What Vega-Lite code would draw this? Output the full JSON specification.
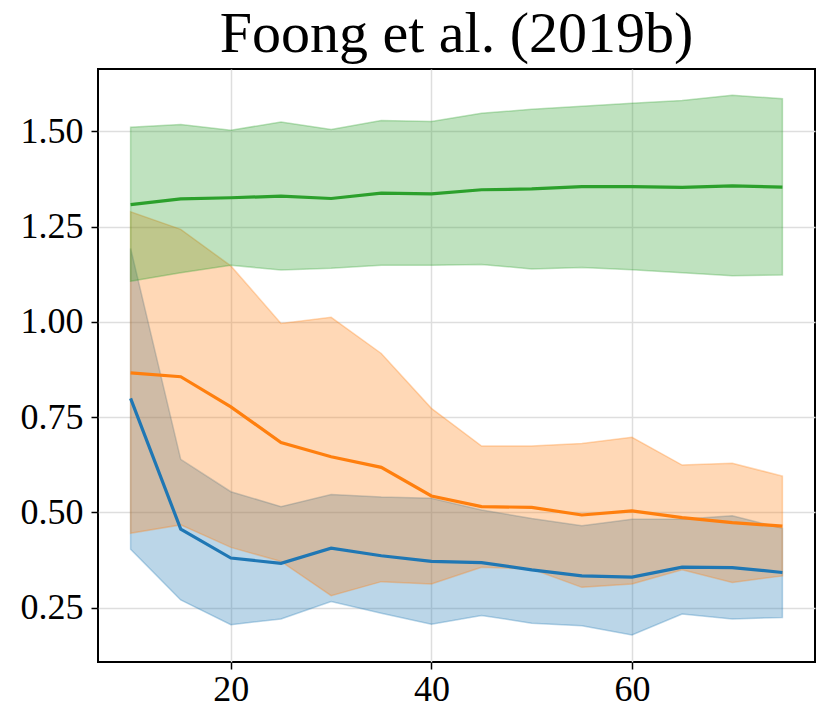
{
  "$schema": "https://vega.github.io/schema/vega-lite/v6.json",
  "width": 717,
  "height": 593,
  "autosize": "none",
  "padding": {"left": 98, "top": 69, "right": 16, "bottom": 65},
  "background": "white",
  "config": {
    "view": {"stroke": "black", "strokeWidth": 2},
    "font": "Liberation Serif"
  },
  "title": {
    "text": "Foong et al. (2019b)",
    "font": "Liberation Serif",
    "fontSize": 58,
    "fontWeight": "normal",
    "color": "black",
    "anchor": "middle",
    "offset": 5
  },
  "data": {
    "values": [
      {"x": 10, "method": "A", "mean": 0.799, "lo": 0.403, "hi": 1.193},
      {"x": 15, "method": "A", "mean": 0.456, "lo": 0.270, "hi": 0.639},
      {"x": 20, "method": "A", "mean": 0.380, "lo": 0.205, "hi": 0.554},
      {"x": 25, "method": "A", "mean": 0.366, "lo": 0.220, "hi": 0.515},
      {"x": 30, "method": "A", "mean": 0.406, "lo": 0.266, "hi": 0.547},
      {"x": 35, "method": "A", "mean": 0.386, "lo": 0.235, "hi": 0.540},
      {"x": 40, "method": "A", "mean": 0.371, "lo": 0.206, "hi": 0.537},
      {"x": 45, "method": "A", "mean": 0.368, "lo": 0.229, "hi": 0.506},
      {"x": 50, "method": "A", "mean": 0.349, "lo": 0.209, "hi": 0.484},
      {"x": 55, "method": "A", "mean": 0.333, "lo": 0.202, "hi": 0.465},
      {"x": 60, "method": "A", "mean": 0.330, "lo": 0.178, "hi": 0.482},
      {"x": 65, "method": "A", "mean": 0.356, "lo": 0.233, "hi": 0.482},
      {"x": 70, "method": "A", "mean": 0.355, "lo": 0.220, "hi": 0.491},
      {"x": 75, "method": "A", "mean": 0.342, "lo": 0.224, "hi": 0.458},
      {"x": 10, "method": "B", "mean": 0.866, "lo": 0.445, "hi": 1.289},
      {"x": 15, "method": "B", "mean": 0.856, "lo": 0.467, "hi": 1.243},
      {"x": 20, "method": "B", "mean": 0.777, "lo": 0.408, "hi": 1.147},
      {"x": 25, "method": "B", "mean": 0.683, "lo": 0.371, "hi": 0.996},
      {"x": 30, "method": "B", "mean": 0.646, "lo": 0.281, "hi": 1.012},
      {"x": 35, "method": "B", "mean": 0.618, "lo": 0.318, "hi": 0.917},
      {"x": 40, "method": "B", "mean": 0.543, "lo": 0.312, "hi": 0.773},
      {"x": 45, "method": "B", "mean": 0.515, "lo": 0.356, "hi": 0.674},
      {"x": 50, "method": "B", "mean": 0.513, "lo": 0.351, "hi": 0.674},
      {"x": 55, "method": "B", "mean": 0.493, "lo": 0.303, "hi": 0.681},
      {"x": 60, "method": "B", "mean": 0.504, "lo": 0.312, "hi": 0.697},
      {"x": 65, "method": "B", "mean": 0.486, "lo": 0.349, "hi": 0.624},
      {"x": 70, "method": "B", "mean": 0.473, "lo": 0.316, "hi": 0.629},
      {"x": 75, "method": "B", "mean": 0.464, "lo": 0.333, "hi": 0.595},
      {"x": 10, "method": "C", "mean": 1.308, "lo": 1.107, "hi": 1.511},
      {"x": 15, "method": "C", "mean": 1.323, "lo": 1.129, "hi": 1.518},
      {"x": 20, "method": "C", "mean": 1.326, "lo": 1.149, "hi": 1.503},
      {"x": 25, "method": "C", "mean": 1.330, "lo": 1.136, "hi": 1.525},
      {"x": 30, "method": "C", "mean": 1.324, "lo": 1.141, "hi": 1.505},
      {"x": 35, "method": "C", "mean": 1.338, "lo": 1.149, "hi": 1.529},
      {"x": 40, "method": "C", "mean": 1.336, "lo": 1.149, "hi": 1.526},
      {"x": 45, "method": "C", "mean": 1.347, "lo": 1.151, "hi": 1.548},
      {"x": 50, "method": "C", "mean": 1.349, "lo": 1.139, "hi": 1.558},
      {"x": 55, "method": "C", "mean": 1.355, "lo": 1.143, "hi": 1.566},
      {"x": 60, "method": "C", "mean": 1.355, "lo": 1.137, "hi": 1.574},
      {"x": 65, "method": "C", "mean": 1.353, "lo": 1.129, "hi": 1.581},
      {"x": 70, "method": "C", "mean": 1.357, "lo": 1.121, "hi": 1.595},
      {"x": 75, "method": "C", "mean": 1.354, "lo": 1.123, "hi": 1.586}
    ]
  },
  "encoding": {
    "x": {
      "field": "x",
      "type": "quantitative",
      "scale": {"domain": [6.75, 78.25], "nice": false, "zero": false},
      "axis": {
        "title": null,
        "values": [20, 40, 60],
        "domain": false,
        "labelFont": "Liberation Serif",
        "labelFontSize": 36,
        "labelColor": "black",
        "labelPadding": 3,
        "tickColor": "black",
        "tickSize": 7,
        "tickWidth": 1.5,
        "gridColor": "#dedede",
        "gridWidth": 1.5
      }
    },
    "color": {
      "field": "method",
      "type": "nominal",
      "scale": {"domain": ["A", "B", "C"], "range": ["#1f77b4", "#ff7f0e", "#2ca02c"]},
      "legend": null
    }
  },
  "layer": [
    {
      "mark": {"type": "area", "fillOpacity": 0.3, "strokeOpacity": 0.3, "strokeWidth": 1.5},
      "encoding": {
        "y": {
          "field": "lo",
          "type": "quantitative",
          "scale": {"domain": [0.107, 1.664], "nice": false, "zero": false},
          "axis": {
            "title": null,
            "values": [0.25, 0.5, 0.75, 1.0, 1.25, 1.5],
            "format": ".2f",
            "domain": false,
            "labelFont": "Liberation Serif",
            "labelFontSize": 36,
            "labelColor": "black",
            "labelPadding": 8,
            "tickColor": "black",
            "tickSize": 7,
            "tickWidth": 1.5,
            "gridColor": "#dedede",
            "gridWidth": 1.5
          }
        },
        "y2": {"field": "hi"},
        "stroke": {"field": "method", "type": "nominal", "scale": {"domain": ["A", "B", "C"], "range": ["#1f77b4", "#ff7f0e", "#2ca02c"]}, "legend": null}
      }
    },
    {
      "mark": {"type": "line", "strokeWidth": 3.2},
      "encoding": {
        "y": {"field": "mean", "type": "quantitative"}
      }
    }
  ]
}
